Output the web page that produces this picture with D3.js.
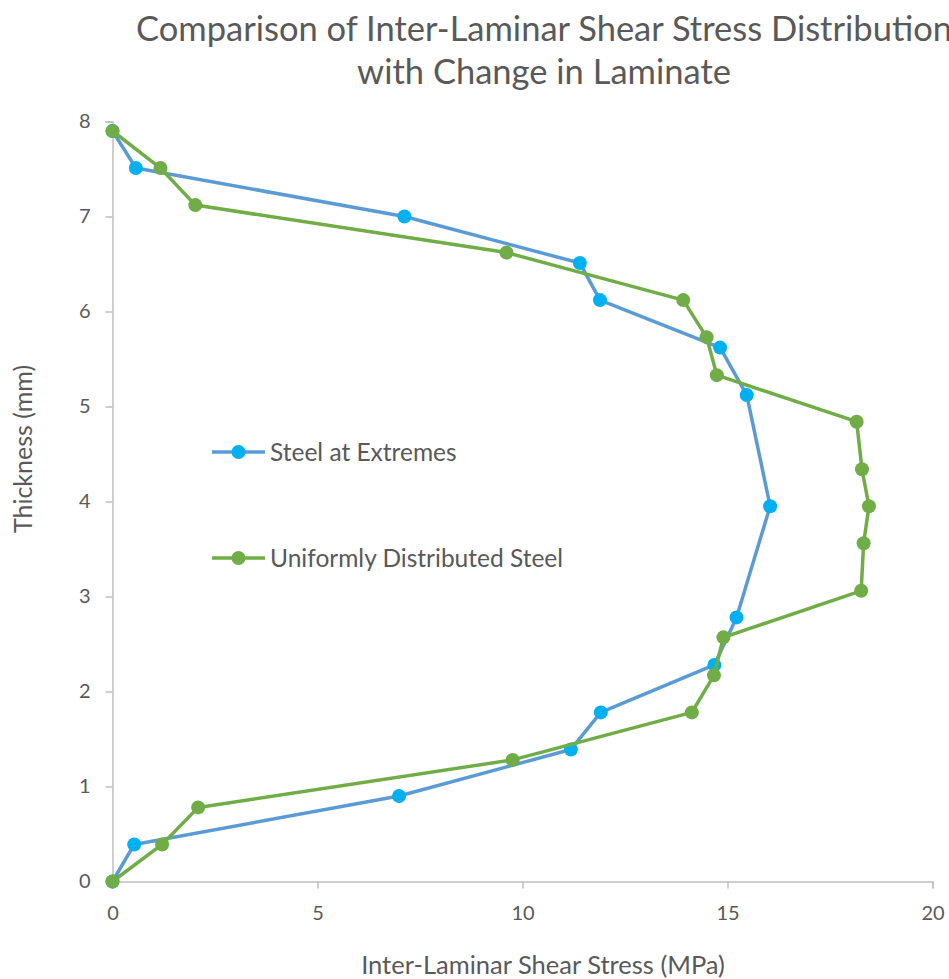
<!DOCTYPE html>
<html>
<head>
<meta charset="utf-8">
<script src="https://cdn.jsdelivr.net/npm/d3@7"></script>
<style>
  html, body { margin: 0; padding: 0; background: #fff; overflow: hidden; }
  svg { display: block; }
  text { font-family: Lato, "Open Sans", sans-serif; fill: #595959; }
</style>
</head>
<body>
<svg id="chart" width="949" height="979"></svg>
<script>
// Series: shear stress (MPa) against thickness position (mm)
const steelExtremesStress = [0, 0.57, 7.12, 11.4, 11.89, 14.82, 15.47, 16.04, 15.22, 14.68, 11.91, 11.18, 6.99, 0.53, 0];
const steelExtremesThickness = [7.9, 7.51, 7.0, 6.51, 6.12, 5.62, 5.12, 3.95, 2.78, 2.28, 1.78, 1.39, 0.9, 0.39, 0];

const uniformStress = [0, 1.17, 2.02, 9.61, 13.92, 14.49, 14.74, 18.15, 18.28, 18.45, 18.32, 18.26, 14.9, 14.67, 14.13, 9.76, 2.09, 1.21, 0];
const uniformThickness = [7.9, 7.51, 7.12, 6.62, 6.12, 5.73, 5.33, 4.84, 4.34, 3.95, 3.56, 3.06, 2.57, 2.17, 1.78, 1.28, 0.78, 0.39, 0];

const xTicks = [0, 5, 10, 15, 20];
const yTicks = [0, 1, 2, 3, 4, 5, 6, 7, 8];
const seriesNames = ["Steel at Extremes", "Uniformly Distributed Steel"];
const titleLines = ["Comparison of Inter-Laminar Shear Stress Distribution", "with Change in Laminate"];
const xTitle = "Inter-Laminar Shear Stress (MPa)";
const yTitle = "Thickness (mm)";

const series = [
  { name: seriesNames[0], x: steelExtremesStress, y: steelExtremesThickness, line: "#5B9BD5", marker: "#00B0F0" },
  { name: seriesNames[1], x: uniformStress, y: uniformThickness, line: "#70AD47", marker: "#70AD47" }
];

const svg = d3.select("#chart");
const plot = { left: 112.5, right: 932.5, top: 121.5, bottom: 881.5 };
const font = "Lato, 'Open Sans', sans-serif";

const x = d3.scaleLinear().domain([0, 20]).range([plot.left, plot.right]);
const y = d3.scaleLinear().domain([0, 8]).range([plot.bottom, plot.top]);

// Title (two centred lines)
svg.append("g").selectAll("text").data(titleLines).join("text")
  .attr("x", 544).attr("y", (d, i) => 41 + i * 43)
  .attr("text-anchor", "middle")
  .attr("font-size", 34.5)
  .text(d => d);

// X axis
const xAxis = svg.append("g").attr("transform", `translate(0,${plot.bottom})`)
  .call(d3.axisBottom(x).tickValues(xTicks).tickSize(7).tickPadding(17).tickFormat(d3.format("d")));
xAxis.select(".domain").attr("stroke", "#bfbfbf").attr("stroke-width", 1.5);
xAxis.selectAll(".tick line").attr("stroke", "#bfbfbf").attr("stroke-width", 1.5);
xAxis.selectAll(".tick text").attr("font-size", 20).attr("fill", "#595959").style("font-family", font);

// Y axis
const yAxis = svg.append("g").attr("transform", `translate(${plot.left},0)`)
  .call(d3.axisLeft(y).tickValues(yTicks).tickSize(7).tickPadding(15).tickFormat(d3.format("d")));
yAxis.select(".domain").attr("stroke", "#bfbfbf").attr("stroke-width", 1.5);
yAxis.selectAll(".tick line").attr("stroke", "#bfbfbf").attr("stroke-width", 1.5);
yAxis.selectAll(".tick text").attr("font-size", 20).attr("fill", "#595959").style("font-family", font);

// Axis titles
svg.append("text").attr("x", 543).attr("y", 974).attr("text-anchor", "middle")
  .attr("font-size", 25.5).text(xTitle);
svg.append("text").attr("transform", "translate(32,449) rotate(-90)").attr("text-anchor", "middle")
  .attr("font-size", 25).text(yTitle);

// Lines and markers (uniform series drawn on top)
const line = d3.line().x(d => x(d[0])).y(d => y(d[1]));
series.forEach(s => {
  const pts = s.x.map((v, i) => [v, s.y[i]]);
  const g = svg.append("g");
  g.append("path").datum(pts).attr("d", line)
    .attr("fill", "none").attr("stroke", s.line).attr("stroke-width", 3.5)
    .attr("stroke-linejoin", "round").attr("stroke-linecap", "round");
  g.selectAll("circle").data(pts).join("circle")
    .attr("cx", d => x(d[0])).attr("cy", d => y(d[1])).attr("r", 7)
    .attr("fill", s.marker);
});

// Legend inside the plot area
const legendY = [452, 558];
const legend = svg.append("g");
series.forEach((s, i) => {
  const g = legend.append("g").attr("transform", `translate(212,${legendY[i]})`);
  g.append("line").attr("x1", 0).attr("x2", 53).attr("y1", 0).attr("y2", 0)
    .attr("stroke", s.line).attr("stroke-width", 3.5);
  g.append("circle").attr("cx", 26.5).attr("cy", 0).attr("r", 7).attr("fill", s.marker);
  g.append("text").attr("x", 58).attr("y", 8.5).attr("font-size", 24.5).text(s.name);
});
</script>
</body>
</html>
